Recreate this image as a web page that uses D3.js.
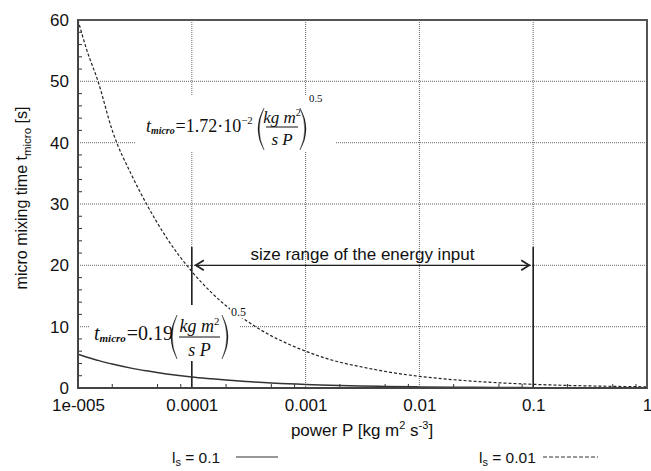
<!DOCTYPE html>
<html><head><meta charset="utf-8">
<script src="https://cdn.jsdelivr.net/npm/d3@7"></script>
<style>body{margin:0;background:#fff}svg{display:block}</style>
</head><body>
<svg id="c" width="651" height="471"></svg>
<script>
// ---- data ----
const power = [1e-5,1.2e-5,1.5e-5,2e-5,3e-5,4e-5,6e-5,1e-4,1.5e-4,2e-4,3e-4,5e-4,7e-4,1e-3,2e-3,3e-3,5e-3,1e-2,2e-2,5e-2,0.1,0.2,0.5,1];
const tLs001 = [60,55,50,42,34.5,30,24.5,19,15.5,13.4,11,8.5,7.2,6,4.2,3.5,2.7,1.9,1.35,0.85,0.6,0.42,0.27,0.19];
const tLs01  = [5.5,5.0,4.5,3.9,3.2,2.8,2.3,1.8,1.5,1.3,1.05,0.8,0.7,0.57,0.4,0.33,0.25,0.18,0.13,0.08,0.06,0.04,0.025,0.018];
const xTicks = [1e-5,1e-4,1e-3,1e-2,1e-1,1];
const xTickLabels = ["1e-005","0.0001","0.001","0.01","0.1","1"];
const yTicks = [0,10,20,30,40,50,60];
const rangeEnds = [1e-4, 0.1];
const rangeLabel = "size range of the energy input";

const svg = d3.select("#c");
const L=78,R=647,T=20,B=388;
const x = d3.scaleLog().domain([1e-5,1]).range([L,R]);
const y = d3.scaleLinear().domain([0,60]).range([B,T]);
const ink="#333", grid="#666";
const sans="Liberation Sans, Arial, sans-serif", serif="Liberation Serif, Times New Roman, serif";
const FS=17;

// grid
const g = svg.append("g");
g.selectAll(".gx").data(xTicks.slice(1,-1)).join("line")
 .attr("x1",d=>x(d)).attr("x2",d=>x(d)).attr("y1",T).attr("y2",B)
 .attr("stroke",grid).attr("stroke-width",1).attr("stroke-dasharray","1,1");
g.selectAll(".gy").data(yTicks.slice(1,-1)).join("line")
 .attr("x1",L).attr("x2",R).attr("y1",d=>y(d)).attr("y2",d=>y(d))
 .attr("stroke",grid).attr("stroke-width",1).attr("stroke-dasharray","1,1");

// minor ticks
const minorY = d3.range(0,61,2).filter(v=>v%10!==0);
svg.selectAll(".my").data(minorY).join("line")
 .attr("x1",L).attr("x2",L+4).attr("y1",d=>y(d)).attr("y2",d=>y(d)).attr("stroke",ink);
const minorX = [];
[1e-5,1e-4,1e-3,1e-2,1e-1].forEach(b=>[2,5,8].forEach(m=>minorX.push(b*m)));
svg.selectAll(".mx").data(minorX).join("line")
 .attr("x1",d=>x(d)).attr("x2",d=>x(d)).attr("y1",B).attr("y2",B-4).attr("stroke",ink);

// range markers: vertical lines (masked later by formula boxes)
svg.selectAll(".rv").data(rangeEnds).join("line")
 .attr("x1",d=>x(d)).attr("x2",d=>x(d)).attr("y1",y(23)).attr("y2",B)
 .attr("stroke","#222").attr("stroke-width",1.6);

// formula boxes (white masks)
const boxes = [{bx:135,by:95,bw:201,bh:57},{bx:90,by:305,bw:150,bh:56}];
svg.selectAll(".box").data(boxes).join("rect")
 .attr("x",d=>d.bx).attr("y",d=>d.by).attr("width",d=>d.bw).attr("height",d=>d.bh).attr("fill","#fff");

// arrow
const ay = y(20);
svg.append("line").attr("x1",x(rangeEnds[0])+3).attr("x2",x(rangeEnds[1])-3)
 .attr("y1",ay).attr("y2",ay).attr("stroke","#222").attr("stroke-width",1.3);
svg.append("path").attr("d",`M${x(rangeEnds[0])+12},${ay-5}L${x(rangeEnds[0])+4},${ay}L${x(rangeEnds[0])+12},${ay+5}`)
 .attr("fill","none").attr("stroke","#222").attr("stroke-width",1.8);
svg.append("path").attr("d",`M${x(rangeEnds[1])-12},${ay-5}L${x(rangeEnds[1])-4},${ay}L${x(rangeEnds[1])-12},${ay+5}`)
 .attr("fill","none").attr("stroke","#222").attr("stroke-width",1.8);
svg.append("text").attr("x",(x(rangeEnds[0])+x(rangeEnds[1]))/2).attr("y",ay-5)
 .attr("text-anchor","middle").attr("font-family",sans).attr("font-size",FS).attr("fill","#111").text(rangeLabel);

// curves
svg.append("clipPath").attr("id","cp").append("rect").attr("x",L).attr("y",T).attr("width",R-L).attr("height",B-T);
const line = d3.line().x((d,i)=>x(power[i])).y(d=>y(d)).curve(d3.curveMonotoneX);
svg.append("path").datum(tLs001).attr("d",line).attr("clip-path","url(#cp)")
 .attr("fill","none").attr("stroke","#222").attr("stroke-width",1.2).attr("stroke-dasharray","3,2");
svg.append("path").datum(tLs01).attr("d",line).attr("clip-path","url(#cp)")
 .attr("fill","none").attr("stroke","#333").attr("stroke-width",1.5);

// formulas
function paren(xo,xi,top,bot){ // xo = outer (bulge) x, xi = tips x
  const mid=(top+bot)/2;
  svg.append("path").attr("d",`M${xi},${top}Q${2*xo-xi},${mid} ${xi},${bot}Q${2*xo-xi+(xi>xo?2.4:-2.4)},${mid} ${xi},${top}Z`)
   .attr("fill","#111").attr("stroke","#111").attr("stroke-width",0.4);
}
function formula(o){
  const t = svg.append("text").attr("x",o.tx).attr("y",o.base).attr("font-family",serif).attr("font-size",o.fs).attr("fill","#111");
  t.append("tspan").attr("font-style","italic").text("t");
  t.append("tspan").attr("font-style","italic").attr("font-weight","bold").attr("font-size",o.fs*0.55).attr("dy",o.fs*0.12).text("micro");
  t.append("tspan").attr("dy",-o.fs*0.12).attr("dx",1).text(o.coef);
  if(o.sup) t.append("tspan").attr("font-size",o.fs*0.6).attr("dy",-o.fs*0.45).text(o.sup);
  paren(o.pl, o.pl+6, o.pt, o.pb);
  paren(o.pr, o.pr-6, o.pt, o.pb);
  const cx=(o.pl+o.pr)/2;
  const num = svg.append("text").attr("x",cx).attr("y",o.numY).attr("text-anchor","middle")
    .attr("font-family",serif).attr("font-size",o.ffs).attr("font-style","italic").attr("fill","#111");
  num.append("tspan").text("kg m");
  num.append("tspan").attr("font-size",o.ffs*0.6).attr("dy",-o.ffs*0.4).attr("font-style","normal").text("2");
  svg.append("line").attr("x1",o.pl+8).attr("x2",o.pr-8).attr("y1",o.barY).attr("y2",o.barY).attr("stroke","#111").attr("stroke-width",1);
  svg.append("text").attr("x",cx).attr("y",o.denY).attr("text-anchor","middle")
    .attr("font-family",serif).attr("font-size",o.ffs).attr("font-style","italic").attr("fill","#111").text("s P");
  const ex = o.pr+o.expDx, fsE=o.fs*0.6;
  svg.append("rect").attr("x",ex-1).attr("y",o.expY-fsE*0.75).attr("width",fsE*1.35+3).attr("height",fsE*0.95).attr("fill","#fff");
  svg.append("text").attr("x",ex).attr("y",o.expY).attr("font-family",serif).attr("font-size",fsE).attr("fill","#111").text("0.5");
}
formula({tx:146,base:132,fs:18,coef:"=1.72·10",sup:"−2",
  pl:258,pr:306,pt:108,pb:150,numY:123,barY:127,denY:145,ffs:17,expY:102,expDx:3});
formula({tx:94,base:340,fs:20,coef:"=0.19",sup:null,
  pl:171,pr:228,pt:315,pb:359,numY:332,barY:337,denY:356,ffs:18,expY:316,expDx:3});

// frame
svg.append("rect").attr("x",L).attr("y",T).attr("width",R-L).attr("height",B-T)
 .attr("fill","none").attr("stroke","#555").attr("stroke-width",2);
svg.append("line").attr("x1",L).attr("x2",L).attr("y1",T).attr("y2",B).attr("stroke","#444").attr("stroke-width",2);
svg.append("line").attr("x1",L).attr("x2",R).attr("y1",B).attr("y2",B).attr("stroke","#444").attr("stroke-width",2);

// tick labels via axes
const ax = svg.append("g").attr("transform",`translate(0,${B})`)
 .call(d3.axisBottom(x).tickValues(xTicks).tickFormat((d,i)=>xTickLabels[i]).tickSize(0).tickPadding(11));
ax.select(".domain").remove();
ax.selectAll("text").attr("font-family",sans).attr("font-size",FS).attr("fill","#111");
const ayx = svg.append("g").attr("transform",`translate(${L},0)`)
 .call(d3.axisLeft(y).tickValues(yTicks).tickSize(0).tickPadding(9));
ayx.select(".domain").remove();
ayx.selectAll("text").attr("font-family",sans).attr("font-size",FS).attr("fill","#111");

// axis titles
const xt = svg.append("text").attr("x",362).attr("y",436).attr("text-anchor","middle")
 .attr("font-family",sans).attr("font-size",FS).attr("fill","#111");
xt.append("tspan").text("power P [kg m");
xt.append("tspan").attr("font-size",11).attr("dy",-7).text("2");
xt.append("tspan").attr("dy",7).text(" s");
xt.append("tspan").attr("font-size",11).attr("dy",-7).text("-3");
xt.append("tspan").attr("dy",7).text("]");
const yt = svg.append("text").attr("transform","translate(27,198) rotate(-90)").attr("text-anchor","middle")
 .attr("font-family",sans).attr("font-size",16).attr("fill","#111");
yt.append("tspan").text("micro mixing time t");
yt.append("tspan").attr("font-size",11.5).attr("dy",4).text("micro");
yt.append("tspan").attr("dy",-4).text(" [s]");

// legend
function legendItem(lx,label,sub,rest,x1,x2,dash){
  const t = svg.append("text").attr("x",lx).attr("y",463).attr("font-family",sans).attr("font-size",15.5).attr("fill","#111");
  t.append("tspan").text(label);
  t.append("tspan").attr("font-size",11).attr("dy",3).text(sub);
  t.append("tspan").attr("dy",-3).text(rest);
  svg.append("line").attr("x1",x1).attr("x2",x2).attr("y1",457).attr("y2",457)
   .attr("stroke","#333").attr("stroke-width",1.2).attr("stroke-dasharray",dash);
}
legendItem(172,"l","s"," = 0.1",236,278,null);
legendItem(479,"l","s"," = 0.01",543,598,"4,2");
</script>
</body></html>
